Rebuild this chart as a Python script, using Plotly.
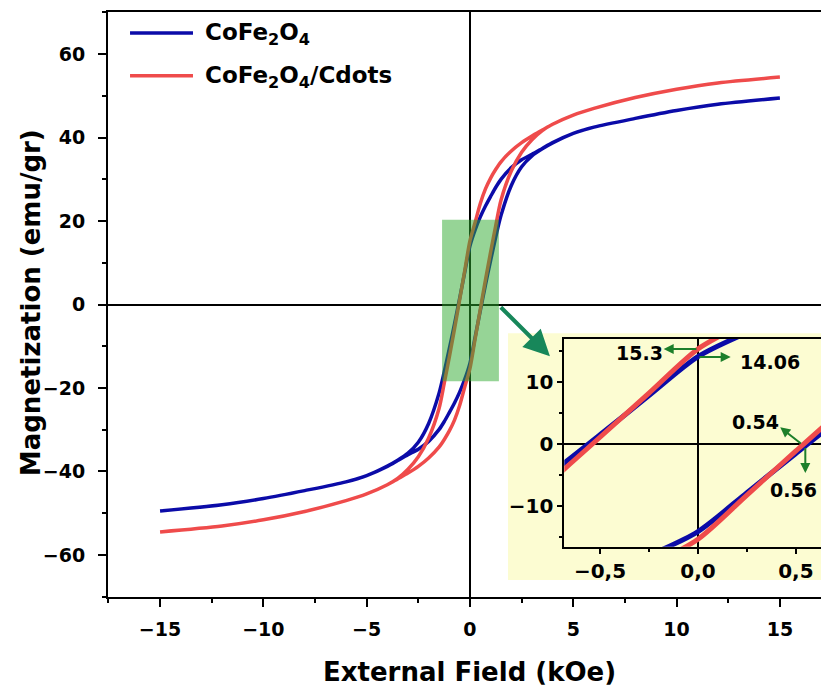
import plotly.graph_objects as go

# ---------------- data ----------------
H_desc = [15, 12, 10, 8, 6, 5, 4, 3.5, 3, 2.5, 2, 1.5, 1.25, 1, 0.75, 0.5, 0.25, 0,
          -0.25, -0.5, -0.75, -1, -1.25, -1.5, -2, -2.5, -3, -3.5, -4, -5, -6, -8, -10, -12, -15]
H_asc = [-15, -12, -10, -8, -6, -5, -4, -3.5, -3, -2.5, -2, -1.5, -1.25, -1, -0.75, -0.5, -0.25, 0,
         0.25, 0.5, 0.75, 1, 1.25, 1.5, 2, 2.5, 3, 3.5, 4, 5, 6, 8, 10, 12, 15]

blue_desc = [49.5, 48.0, 46.5, 44.6, 42.5, 41.0, 38.8, 37.4, 36.0, 34.7, 32.8, 30.0, 28.1, 25.9, 23.6, 21.0, 17.9, 14.06,
             7.8, 1.5, -4.7, -10.6, -16.2, -21.3, -28.5, -33.0, -35.6, -37.3, -38.7, -41.0, -42.5, -44.6, -46.5, -48.0, -49.5]
blue_asc = [-49.5, -48.0, -46.5, -44.6, -42.5, -41.0, -38.8, -37.4, -36.0, -34.7, -32.8, -30.0, -28.1, -25.9, -23.6, -21.0, -17.9, -14.06,
            -7.8, -1.5, 4.7, 10.6, 16.2, 21.3, 28.5, 33.0, 35.6, 37.3, 38.7, 41.0, 42.5, 44.6, 46.5, 48.0, 49.5]

red_desc = [54.5, 53.1, 51.6, 49.6, 47.0, 45.4, 43.2, 41.8, 40.4, 38.8, 36.8, 34.2, 32.4, 30.3, 27.7, 24.2, 19.7, 15.3,
            8.2, 1.1, -5.9, -12.6, -19.0, -25.0, -32.0, -36.5, -39.5, -41.7, -43.2, -45.4, -47.0, -49.6, -51.6, -53.1, -54.5]
red_asc = [-54.5, -53.1, -51.6, -49.6, -47.0, -45.4, -43.2, -41.8, -40.4, -38.8, -36.8, -34.2, -32.4, -30.3, -27.7, -24.2, -19.7, -15.3,
           -8.2, -1.1, 5.9, 12.6, 19.0, 25.0, 32.0, 36.5, 39.5, 41.7, 43.2, 45.4, 47.0, 49.6, 51.6, 53.1, 54.5]

series_names = ["CoFe<sub>2</sub>O<sub>4</sub>", "CoFe<sub>2</sub>O<sub>4</sub>/Cdots"]

main_xticks = [-15, -10, -5, 0, 5, 10, 15]
main_yticks = [-60, -40, -20, 0, 20, 40, 60]
inset_xticks = [-0.5, 0.0, 0.5]
inset_xlabels = ["\u22120,5", "0,0", "0,5"]
inset_yticks = [-10, 0, 10]
inset_ylabels = ["\u221210", "0", "10"]

# annotated values
val_mr_red, val_mr_blue = "15.3", "14.06"
val_hc_red, val_hc_blue = "0.54", "0.56"

# ---------------- styling ----------------
FONT = "DejaVu Sans"
BLUE = "#0b0ba8"
RED = "#ef4b4b"
GREEN_ARROW = "#1d7f2a"
BIG_ARROW = "#17875a"

fig = go.Figure()

loops = [(blue_desc, blue_asc, BLUE), (red_desc, red_asc, RED)]
for desc, asc, col in loops:
    fig.add_trace(go.Scatter(
        x=H_desc + H_asc[1:], y=desc + asc[1:], mode="lines",
        line=dict(color=col, width=3.5, shape="spline", smoothing=0.8),
        showlegend=False, hoverinfo="skip"))
for desc, asc, col in loops:
    fig.add_trace(go.Scatter(
        x=H_desc + H_asc[1:], y=desc + asc[1:], mode="lines",
        line=dict(color=col, width=5, shape="spline", smoothing=0.8),
        xaxis="x2", yaxis="y2", showlegend=False, hoverinfo="skip"))

tickfont = dict(family=FONT, size=19, color="black", weight="bold")
inset_tickfont = dict(family=FONT, size=20, color="black", weight="bold")

fig.update_layout(
    width=821, height=688,
    margin=dict(l=108, r=0, t=12, b=91),
    paper_bgcolor="white", plot_bgcolor="rgba(0,0,0,0)",
    showlegend=False,
    font=dict(family=FONT, size=19, color="black"),
    xaxis=dict(
        domain=[0, 1], range=[-17.52, 16.99],
        tickvals=main_xticks, ticks="outside", ticklen=8, tickwidth=2, tickcolor="black",
        tickfont=tickfont, ticklabelstandoff=6,
        showline=True, linewidth=2, linecolor="black", mirror=True,
        showgrid=False, zeroline=True, zerolinecolor="black", zerolinewidth=2,
        minor=dict(dtick=2.5, tick0=0, ticks="outside", ticklen=4, tickwidth=2, tickcolor="black", showgrid=False),
    ),
    yaxis=dict(
        domain=[0, 1], range=[-70.1, 70.1],
        tickvals=main_yticks, ticks="outside", ticklen=8, tickwidth=2, tickcolor="black",
        tickfont=tickfont, ticklabelstandoff=9,
        showline=True, linewidth=2, linecolor="black", mirror=False,
        showgrid=False, zeroline=True, zerolinecolor="black", zerolinewidth=2,
        minor=dict(dtick=10, tick0=0, ticks="outside", ticklen=4, tickwidth=2, tickcolor="black", showgrid=False),
    ),
    xaxis2=dict(
        domain=[0.640, 1.0], anchor="y2", range=[-0.682, 0.628],
        tickvals=inset_xticks, ticktext=inset_xlabels,
        ticks="outside", ticklen=5, tickwidth=1.5, tickcolor="black",
        tickfont=inset_tickfont,
        showline=True, linewidth=2, linecolor="black", mirror=True,
        showgrid=False, zeroline=True, zerolinecolor="black", zerolinewidth=2,
        minor=dict(dtick=0.25, tick0=0, ticks="outside", ticklen=3, tickwidth=1.5, tickcolor="black", showgrid=False),
    ),
    yaxis2=dict(
        domain=[0.086, 0.441], anchor="x2", range=[-16.5, 16.9],
        tickvals=inset_yticks, ticktext=inset_ylabels,
        ticks="outside", ticklen=5, tickwidth=1.5, tickcolor="black",
        tickfont=inset_tickfont,
        showline=True, linewidth=2, linecolor="black", mirror=False,
        showgrid=False, zeroline=True, zerolinecolor="black", zerolinewidth=2,
        minor=dict(dtick=5, tick0=0, ticks="outside", ticklen=3, tickwidth=1.5, tickcolor="black", showgrid=False),
    ),
)

shapes = [
    # inset background
    dict(type="rect", xref="paper", yref="paper", x0=0.561, x1=1.01, y0=0.029, y1=0.451,
         fillcolor="#fcfcd2", line=dict(width=0), layer="below"),
    # zoom window
    dict(type="rect", xref="x", yref="y", x0=-1.35, x1=1.40, y0=-18.4, y1=20.3,
         fillcolor="rgba(45,170,45,0.5)", line=dict(width=0), layer="above"),
    # legend samples
    dict(type="line", xref="paper", yref="paper", x0=0.0309, x1=0.1192, y0=0.964, y1=0.964,
         line=dict(color=BLUE, width=3.5)),
    dict(type="line", xref="paper", yref="paper", x0=0.0309, x1=0.1192, y0=0.891, y1=0.891,
         line=dict(color=RED, width=3.5)),
]
fig.update_layout(shapes=shapes)

title_font = dict(family=FONT, size=26, color="black", weight="bold")
legend_font = dict(family=FONT, size=23, color="black", weight="bold")
ann_font = dict(family=FONT, size=19, color="black", weight="bold")

annotations = [
    dict(text="External Field (kOe)", xref="x", yref="paper", x=0, y=-0.1282,
         xanchor="center", yanchor="middle", showarrow=False, font=title_font),
    dict(text="Magnetization (emu/gr)", xref="paper", yref="paper", x=-0.108, y=0.504,
         xanchor="center", yanchor="middle", textangle=-90, showarrow=False, font=title_font),
    dict(text=series_names[0], xref="paper", yref="paper", x=0.1332, y=0.962,
         xanchor="left", yanchor="middle", showarrow=False, font=legend_font),
    dict(text=series_names[1], xref="paper", yref="paper", x=0.1332, y=0.889,
         xanchor="left", yanchor="middle", showarrow=False, font=legend_font),
    # big arrow from the zoom window to the inset
    dict(text="", xref="x", yref="y", x=3.87, y=-12.4, axref="x", ayref="y", ax=1.42, ay=-0.3,
         showarrow=True, arrowhead=2, arrowsize=1.3, arrowwidth=4, arrowcolor=BIG_ARROW, standoff=0),
    # inset labels & arrows
    dict(text=val_mr_red, xref="x2", yref="y2", x=-0.30, y=14.7, showarrow=False,
         xanchor="center", yanchor="middle", font=ann_font),
    dict(text="", xref="x2", yref="y2", x=-0.175, y=15.3, axref="x2", ayref="y2", ax=0.0, ay=15.3,
         showarrow=True, arrowhead=2, arrowsize=1, arrowwidth=2, arrowcolor=GREEN_ARROW, standoff=0),
    dict(text="", xref="x2", yref="y2", x=0.167, y=14.0, axref="x2", ayref="y2", ax=0.0, ay=14.0,
         showarrow=True, arrowhead=2, arrowsize=1, arrowwidth=2, arrowcolor=GREEN_ARROW, standoff=0),
    dict(text=val_mr_blue, xref="x2", yref="y2", x=0.37, y=13.2, showarrow=False,
         xanchor="center", yanchor="middle", font=ann_font),
    dict(text=val_hc_red, xref="x2", yref="y2", x=0.295, y=3.6, showarrow=False,
         xanchor="center", yanchor="middle", font=ann_font),
    dict(text="", xref="x2", yref="y2", x=0.42, y=2.7, axref="x2", ayref="y2", ax=0.533, ay=-0.1,
         showarrow=True, arrowhead=2, arrowsize=1, arrowwidth=2, arrowcolor=GREEN_ARROW, standoff=0),
    dict(text="", xref="x2", yref="y2", x=0.548, y=-4.66, axref="x2", ayref="y2", ax=0.548, ay=-0.4,
         showarrow=True, arrowhead=2, arrowsize=1, arrowwidth=2, arrowcolor=GREEN_ARROW, standoff=0),
    dict(text=val_hc_blue, xref="x2", yref="y2", x=0.49, y=-7.35, showarrow=False,
         xanchor="center", yanchor="middle", font=ann_font),
]
fig.update_layout(annotations=annotations)

fig.write_html("out.html", config={"displayModeBar": False},
               post_script="document.body.style.margin='0';document.body.style.padding='0';")
